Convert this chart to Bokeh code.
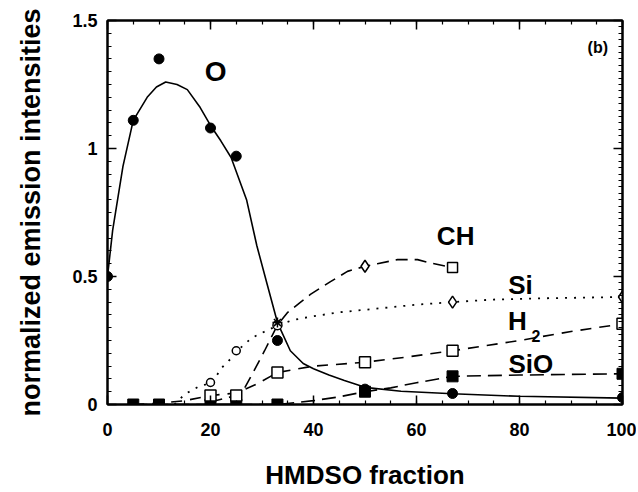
from bokeh.plotting import figure
from bokeh.models import Range1d, LinearAxis, SingleIntervalTicker
from bokeh.embed import file_html
from bokeh.resources import INLINE
from bokeh.core.properties import value

# ---------------- data ----------------
x_ticks = [0, 20, 40, 60, 80, 100]
y_ticks = [0, 0.5, 1, 1.5]

o_x = [0, 5, 10, 20, 25, 33, 50, 67, 100]
o_y = [0.50, 1.11, 1.35, 1.08, 0.97, 0.25, 0.06, 0.043, 0.027]
o_fit_x = [0, 1, 3, 5, 7.7, 9.5, 11.3, 13.5, 15.5, 18, 20, 22, 24, 27, 29, 31,
           33, 35.5, 38, 40, 43, 46, 50, 57, 67, 80, 100]
o_fit_y = [0.50, 0.68, 0.93, 1.11, 1.20, 1.24, 1.26, 1.25, 1.23, 1.16, 1.09,
           1.03, 0.965, 0.80, 0.62, 0.47, 0.32, 0.21, 0.16, 0.14, 0.115, 0.094,
           0.067, 0.052, 0.042, 0.032, 0.025]

ch_x = [33, 50, 67]
ch_y = [0.32, 0.54, 0.535]
ch_fit_x = [20, 24, 26.5, 28.4, 30.5, 33, 35, 37.5, 39.4, 43.3, 46.6, 50, 52.4,
            56.3, 60.2, 62.3, 67]
ch_fit_y = [0.01, 0.03, 0.06, 0.13, 0.21, 0.31, 0.36, 0.40, 0.43, 0.48, 0.52,
            0.54, 0.55, 0.566, 0.566, 0.555, 0.535]

si_x = [20, 25, 33, 67, 100]
si_y = [0.086, 0.21, 0.31, 0.40, 0.42]
si_fit_x = [13, 15, 17.7, 20.4, 22, 24, 25.2, 28, 30, 33.2, 36, 40, 45, 50, 55,
            60, 67, 75, 85, 100]
si_fit_y = [0.0, 0.04, 0.07, 0.086, 0.14, 0.18, 0.21, 0.26, 0.28, 0.31, 0.33,
            0.345, 0.36, 0.37, 0.38, 0.39, 0.40, 0.41, 0.415, 0.42]

h2_x = [20, 25, 33, 50, 67, 100]
h2_y = [0.035, 0.035, 0.125, 0.165, 0.21, 0.315]
h2_fit_x = [5, 10, 15, 20, 25, 29, 33, 40, 50, 58, 67, 80, 90, 100]
h2_fit_y = [0.0, 0.005, 0.015, 0.035, 0.045, 0.08, 0.125, 0.15, 0.165, 0.185,
            0.21, 0.25, 0.285, 0.315]

sio_x = [5, 10, 20, 25, 33, 50, 67, 100]
sio_y = [0.0, 0.0, 0.0, 0.0, 0.0, 0.05, 0.11, 0.12]
sio_fit_x = [5, 33, 40, 45, 50, 55, 60, 67, 80, 100]
sio_fit_y = [0.0, 0.0, 0.015, 0.03, 0.05, 0.065, 0.085, 0.11, 0.115, 0.12]

# ---------------- figure ----------------
FONT = "Liberation Sans"

p = figure(width=636, height=492, output_backend="svg", toolbar_location=None,
           x_range=Range1d(0, 100), y_range=Range1d(0, 1.5),
           min_border_left=107, min_border_right=14, min_border_top=20,
           min_border_bottom=88, background_fill_color="white",
           border_fill_color="white")
p.grid.visible = False
p.outline_line_color = "black"
p.outline_line_width = 2


def style_axis(ax, show_labels):
    ax.axis_line_color = "black"
    ax.axis_line_width = 2
    ax.major_tick_in = 9
    ax.major_tick_out = 0
    ax.minor_tick_in = 4
    ax.minor_tick_out = 0
    ax.major_tick_line_width = 1.5
    ax.minor_tick_line_width = 1.2
    ax.major_label_text_font = FONT
    ax.major_label_text_font_style = "bold"
    if show_labels:
        ax.major_label_text_font_size = "18px"
        ax.major_label_text_color = "black"
    else:
        ax.major_label_text_font_size = "1px"
        ax.major_label_text_color = None
        ax.major_label_standoff = 0


xax = p.xaxis[0]
xax.ticker = SingleIntervalTicker(interval=20, num_minor_ticks=4)
style_axis(xax, True)
xax.major_label_standoff = 18
xax.axis_label = "HMDSO fraction"
xax.axis_label_text_font = FONT
xax.axis_label_text_font_style = "bold"
xax.axis_label_text_font_size = "26px"
xax.axis_label_text_color = "black"
xax.axis_label_standoff = 21

yax = p.yaxis[0]
yax.ticker = SingleIntervalTicker(interval=0.5, num_minor_ticks=10)
style_axis(yax, True)
yax.major_label_standoff = 10
yax.axis_label = "normalized emission intensities"
yax.axis_label_text_font = FONT
yax.axis_label_text_font_style = "bold"
yax.axis_label_text_font_size = "27px"
yax.axis_label_text_color = "black"
yax.axis_label_standoff = 23

top = LinearAxis(ticker=SingleIntervalTicker(interval=20, num_minor_ticks=4))
style_axis(top, False)
p.add_layout(top, "above")
right = LinearAxis(ticker=SingleIntervalTicker(interval=0.5, num_minor_ticks=20))
style_axis(right, False)
p.add_layout(right, "right")

# ---------------- curves ----------------
p.line(o_fit_x, o_fit_y, line_color="black", line_width=1.6)
p.line(ch_fit_x, ch_fit_y, line_color="black", line_width=1.6, line_dash="12 7")
p.line(si_fit_x, si_fit_y, line_color="black", line_width=1.8, line_dash="2 7")
p.line(h2_fit_x, h2_fit_y, line_color="black", line_width=1.6, line_dash="11 8")
p.line(sio_fit_x, sio_fit_y, line_color="black", line_width=1.6, line_dash="14 7")

# ---------------- markers ----------------
p.scatter(o_x, o_y, marker="circle", size=10, fill_color="black", line_color="black")
p.scatter(sio_x, sio_y, marker="square", size=11, fill_color="black", line_color="black")
p.scatter(h2_x, h2_y, marker="square", size=11, fill_color="white",
          line_color="black", line_width=1.5)
p.scatter(si_x, si_y, marker=["circle", "circle", "circle", "diamond", "diamond"],
          size=[8, 8, 9, 12, 12], fill_color="white",
          line_color="black", line_width=1.5)
p.scatter(ch_x, ch_y, marker=["asterisk", "diamond", "square"], size=[10, 12, 10],
          fill_color="white", line_color="black", line_width=1.5)

# ---------------- in-plot labels ----------------
def lab(x, y, t, size="26px"):
    p.text(x=[x], y=[y], text=[t], text_align="center", text_baseline="middle",
           text_font=value(FONT), text_font_style="bold", text_font_size=size,
           text_color="black")


lab(21, 1.30, "O", "28px")
lab(67.6, 0.66, "CH")
lab(80.2, 0.465, "Si")
lab(79.6, 0.328, "H")
lab(83.2, 0.268, "2", "16px")
lab(82.2, 0.157, "SiO")
lab(95.2, 1.395, "(b)", "16px")

open("out.html", "w").write(file_html(p, INLINE))
